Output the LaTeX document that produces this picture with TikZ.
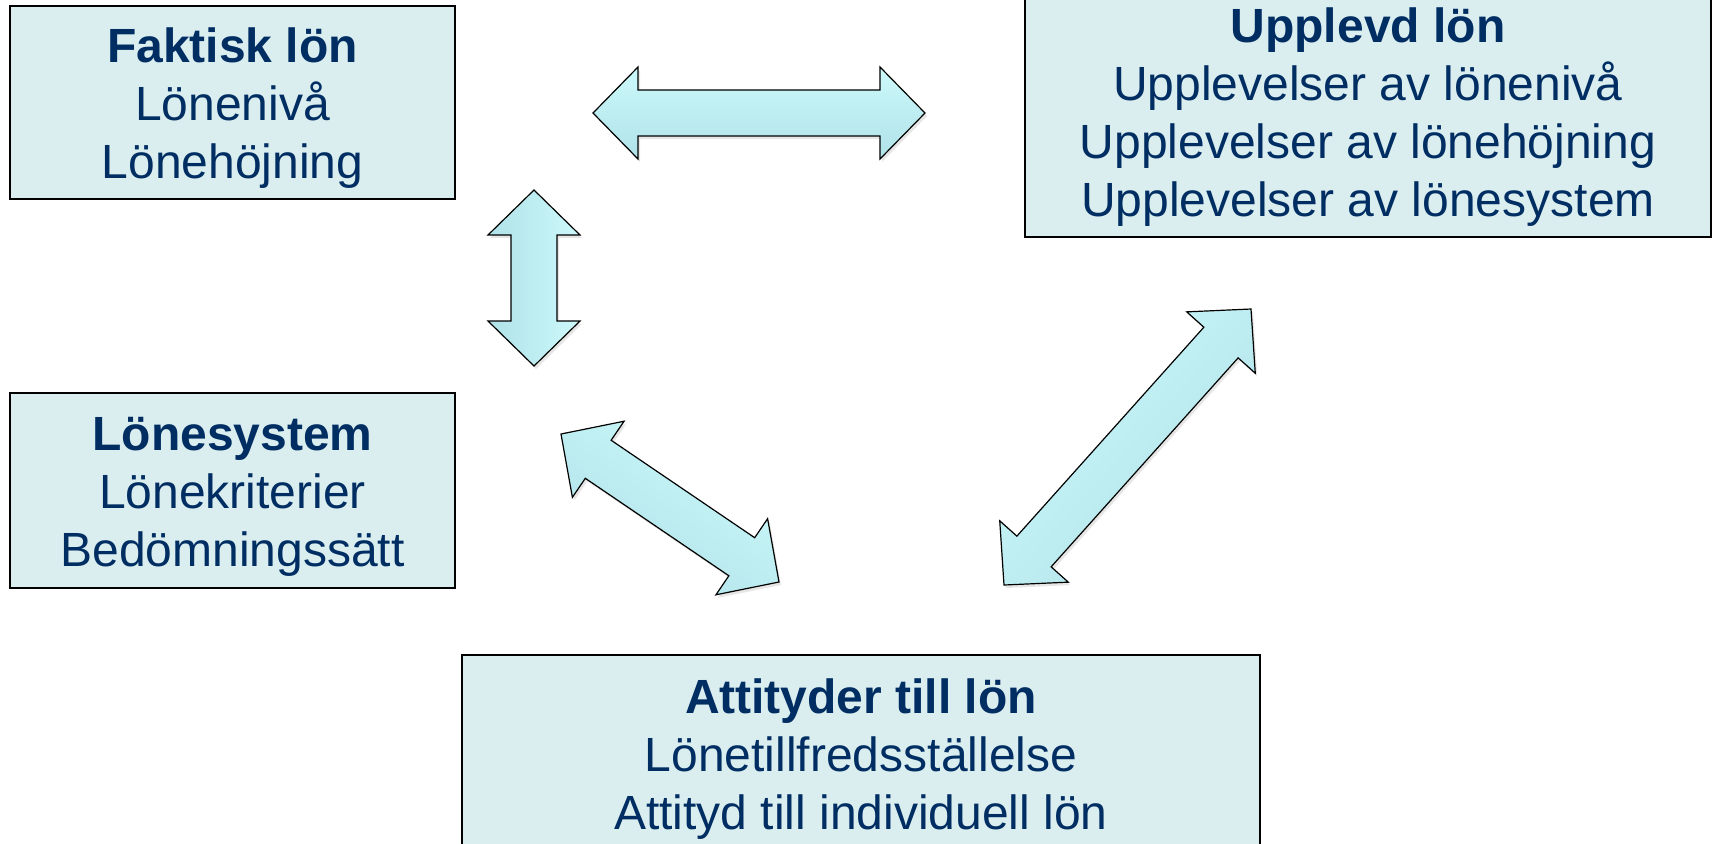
\documentclass[tikz,border=0pt]{standalone}
\usepackage{fontspec}
\setmainfont{Liberation Sans}
\usetikzlibrary{calc,shadows}
\definecolor{boxfill}{RGB}{218,237,239}
\definecolor{lontext}{RGB}{0,45,98}
\definecolor{arrowlight}{RGB}{204,249,251}
\definecolor{arrowdark}{RGB}{176,226,232}

\newcommand{\blockarrow}[3][]{%
\coordinate (#2h) at ($(#2)!22.5pt!(#3)$);
\coordinate (#3h) at ($(#3)!22.5pt!(#2)$);
\path[arrowblock,#1] (#2)
  -- ($(#2h)!23pt!90:(#3)$) -- ($(#2h)!11.5pt!90:(#3)$)
  -- ($(#3h)!11.5pt!-90:(#2)$) -- ($(#3h)!23pt!-90:(#2)$)
  -- (#3)
  -- ($(#3h)!23pt!90:(#2)$) -- ($(#3h)!11.5pt!90:(#2)$)
  -- ($(#2h)!11.5pt!-90:(#3)$) -- ($(#2h)!23pt!-90:(#3)$) -- cycle;}

\begin{document}
\begin{tikzpicture}[x=0.5pt,y=-0.5pt,
  lonbox/.style={draw=black, line width=0.7pt, fill=boxfill, inner sep=0pt},
  lontxt/.style={text=lontext, align=center, inner sep=0pt, yshift=-3pt,
    font=\fontsize{24}{29}\selectfont},
  arrowblock/.style={draw=black, line width=0.6pt,
    top color=arrowlight, bottom color=arrowdark,
    drop shadow={opacity=0.2, shadow xshift=1pt, shadow yshift=-1.5pt}}]

\useasboundingbox (0,0) rectangle (1713,843);

\node[lonbox, minimum width=445*0.5pt, minimum height=193*0.5pt] (faktisk) at (232.5,102.5) {};
\node[lontxt] (faktisktxt) at (faktisk.center)
  {{\bfseries Faktisk lön}\\Lönenivå\\Lönehöjning};

\node[lonbox, minimum width=445*0.5pt, minimum height=195*0.5pt] (lonesystem) at (232.5,490.5) {};
\node[lontxt] (lonesystemtxt) at (lonesystem.center)
  {{\bfseries Lönesystem}\\Lönekriterier\\Bedömningssätt};

\node[lonbox, minimum width=686*0.5pt, minimum height=252*0.5pt] (upplevd) at (1368,111) {};
\node[lontxt] (upplevdtxt) at (upplevd.center)
  {{\bfseries Upplevd lön}\\Upplevelser av lönenivå\\Upplevelser av lönehöjning\\Upplevelser av lönesystem};

\node[lonbox, minimum width=798*0.5pt, minimum height=196*0.5pt] (attityder) at (861,753) {};
\node[lontxt] (attitydertxt) at (attityder.center)
  {{\bfseries Attityder till lön}\\Lönetillfredsställelse\\Attityd till individuell lön};

\coordinate (fu1) at (593,113);
\coordinate (fu2) at (925,113);
\coordinate (fl1) at (534,190);
\coordinate (fl2) at (534,366);
\coordinate (la1) at (561,434);
\coordinate (la2) at (779,582);
\coordinate (ua1) at (1004,585);
\coordinate (ua2) at (1251,309);

\blockarrow{fu1}{fu2}
\blockarrow[shading angle=-90]{fl1}{fl2}
\blockarrow[shading angle=-34]{la1}{la2}
\blockarrow[shading angle=48]{ua1}{ua2}

\end{tikzpicture}
\end{document}
